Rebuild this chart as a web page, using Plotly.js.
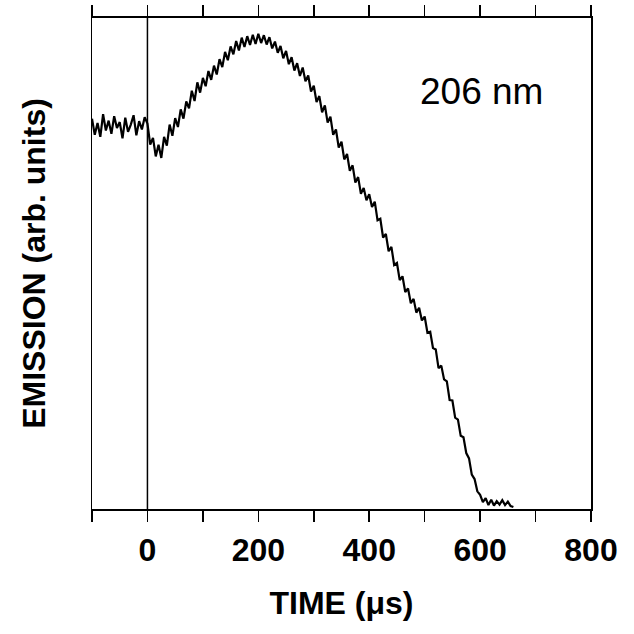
<!DOCTYPE html>
<html>
<head>
<meta charset="utf-8">
<script src="https://cdn.plot.ly/plotly-3.0.1.min.js"></script>
<style>html,body{margin:0;padding:0;background:#fff;}#chart{width:634px;height:634px;}</style>
</head>
<body>
<div id="chart"></div>
<script>
// Time axis (microseconds), sampled every 5 us from -100 to 660
var timeUs = [];
for (var t = -100; t <= 660; t += 5) { timeUs.push(t); }

// Emission (arbitrary units)
var emission = [
  79.5, 76.2, 78.6, 75.8, 80.4, 77.1, 79.1, 76.4, 80.0, 77.6,
  78.8, 75.5, 79.7, 76.8, 78.3, 80.2, 76.1, 79.0, 77.3, 79.8,
  78.5, 74.2, 75.6, 71.8, 74.2, 71.5, 75.8, 74.0, 78.3, 76.0,
  79.6, 77.8, 81.4, 79.5, 83.0, 81.6, 85.2, 83.1, 86.9, 84.8,
  87.8, 86.1, 89.2, 87.4, 90.3, 88.5, 91.6, 90.0, 93.1, 91.4,
  94.2, 92.6, 95.3, 93.4, 96.0, 94.1, 96.3, 94.5, 96.6, 94.7,
  96.8, 94.9, 96.5, 94.6, 96.1, 93.8, 95.2, 92.9, 94.3, 91.8,
  93.3, 90.6, 92.0, 89.3, 90.8, 88.2, 89.9, 87.1, 88.3, 85.0,
  86.2, 82.9, 84.1, 80.8, 82.2, 78.7, 79.9, 76.2, 77.3, 73.6,
  74.8, 71.2, 72.3, 68.9, 70.0, 66.5, 67.6, 64.2, 65.4, 62.9,
  64.1, 61.5, 62.6, 58.8, 59.1, 55.3, 56.0, 52.5, 53.4, 49.7,
  50.1, 46.6, 47.4, 44.2, 44.9, 41.9, 42.8, 40.0, 41.0, 38.4,
  39.2, 35.9, 36.1, 32.8, 32.5, 28.7, 29.2, 26.4, 26.0, 22.2,
  22.1, 18.6, 18.2, 14.9, 14.6, 11.4, 10.3, 7.0, 6.1, 3.6,
  2.9, 1.4, 2.2, 0.8, 1.9, 0.7, 1.6, 0.9, 1.8, 0.8,
  1.5, 0.6, 0.4
];

var tickValues = [-100, 0, 100, 200, 300, 400, 500, 600, 700, 800];
var tickLabels = ["", "0", "", "200", "", "400", "", "600", "", "800"];
var xTitle = "TIME (\u03bcs)";
var yTitle = "EMISSION (arb. units)";
var wavelengthLabel = "206 nm";

var font = "Liberation Sans, Arial, sans-serif";

var trace = {
  x: timeUs,
  y: emission,
  type: "scatter",
  mode: "lines",
  line: {color: "#000", width: 2.2},
  hoverinfo: "skip"
};

var layout = {
  width: 634,
  height: 634,
  paper_bgcolor: "#fff",
  plot_bgcolor: "#fff",
  showlegend: false,
  margin: {l: 92, r: 43, t: 18, b: 125},
  font: {family: font, color: "#000"},
  xaxis: {
    range: [-100, 800],
    tickmode: "array",
    tickvals: tickValues,
    ticktext: tickLabels,
    ticks: "outside",
    ticklen: 11,
    tickwidth: 1.5,
    tickcolor: "#000",
    showline: true,
    linewidth: 2,
    linecolor: "#000",
    mirror: "allticks",
    showgrid: false,
    zeroline: false,
    ticklabelstandoff: 1,
    tickfont: {family: font, size: 32, color: "#000", weight: "bold"},
    title: {text: xTitle, font: {family: font, size: 32, color: "#000", weight: "bold"}, standoff: 24}
  },
  yaxis: {
    range: [0, 100],
    showticklabels: false,
    ticks: "",
    showline: true,
    linewidth: 1.5,
    linecolor: "#000",
    mirror: true,
    showgrid: false,
    zeroline: false,
    title: {text: yTitle, font: {family: font, size: 32, color: "#000", weight: "bold"}, standoff: 35}
  },
  shapes: [{
    type: "line", xref: "x", yref: "paper",
    x0: 0, x1: 0, y0: 0, y1: 1,
    line: {color: "#000", width: 1.5}
  }],
  annotations: [{
    text: wavelengthLabel,
    xref: "x", yref: "paper",
    x: 603, y: 0.851,
    xanchor: "center", yanchor: "middle",
    showarrow: false,
    font: {family: font, size: 37, color: "#000"}
  }]
};

Plotly.newPlot("chart", [trace], layout, {displayModeBar: false, staticPlot: true});
</script>
</body>
</html>
